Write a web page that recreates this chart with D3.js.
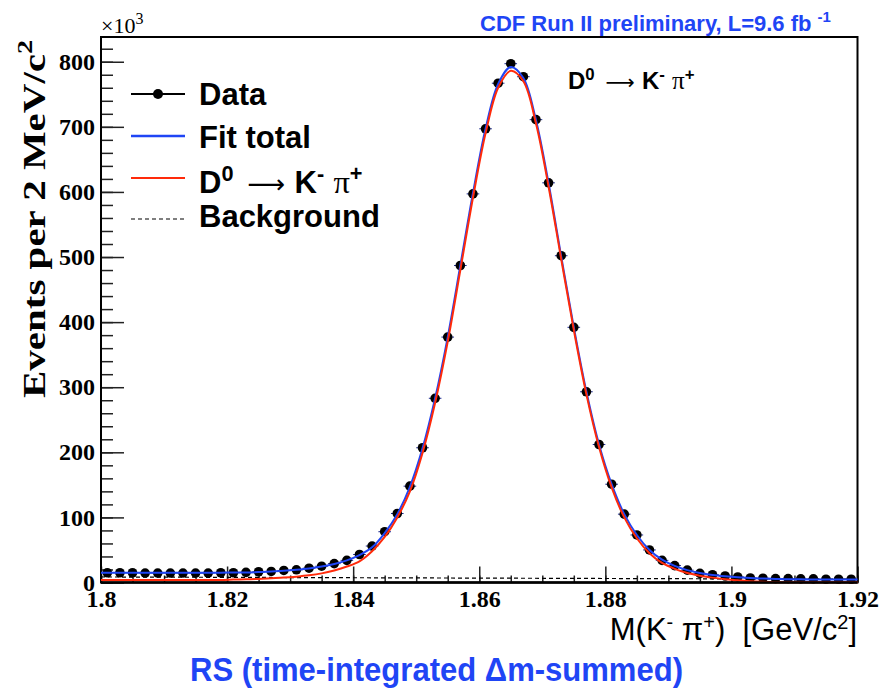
<!DOCTYPE html>
<html>
<head>
<meta charset="utf-8">
<script src="https://cdn.jsdelivr.net/npm/d3@7/dist/d3.min.js"></script>
<style>
  body { margin: 0; background: #fff; }
  svg { display: block; }
  .serifB { font-family: "Liberation Serif", "Times New Roman", serif; font-weight: bold; }
  .sansB { font-family: "Liberation Sans", Arial, Helvetica, sans-serif; font-weight: bold; }
  .sans { font-family: "Liberation Sans", Arial, Helvetica, sans-serif; }
  .sym { font-family: "Liberation Serif", "Times New Roman", serif; font-weight: normal; }
  .arrow { font-family: "DejaVu Sans", sans-serif; font-weight: normal; }
  text { white-space: pre; }
</style>
</head>
<body>
<div id="chart"></div>
<script>
/* global d3 */

// bin centres (2 MeV bins), GeV/c^2
var binCentres = [1.801, 1.803, 1.805, 1.807, 1.809, 1.811, 1.813, 1.815, 1.817, 1.819,
  1.821, 1.823, 1.825, 1.827, 1.829, 1.831, 1.833, 1.835, 1.837, 1.839,
  1.841, 1.843, 1.845, 1.847, 1.849, 1.851, 1.853, 1.855, 1.857, 1.859,
  1.861, 1.863, 1.865, 1.867, 1.869, 1.871, 1.873, 1.875, 1.877, 1.879,
  1.881, 1.883, 1.885, 1.887, 1.889, 1.891, 1.893, 1.895, 1.897, 1.899,
  1.901, 1.903, 1.905, 1.907, 1.909, 1.911, 1.913, 1.915, 1.917, 1.919];

// events per bin, x10^3
var dataCounts = [15, 15, 15, 14.5, 14.5, 14.5, 14.5, 14.5, 14.5, 15,
  15, 15.5, 16.5, 17, 18.5, 19.5, 22, 25, 29, 34,
  43, 56, 78, 106, 148, 207, 283, 377, 487, 597,
  697, 767, 797, 777, 711, 614, 502, 392, 293, 212,
  151, 105, 73, 50, 34, 26, 19, 14, 12, 10,
  8.5, 7, 6.5, 6, 6, 5.5, 5.5, 5, 5, 5];

// curve sampling points (edges + bin centres)
var curveMass = [1.800].concat(binCentres).concat([1.920]);

var fitTotal = [15, 15, 15, 15, 15, 15, 15, 15, 15, 15, 15,
  15.5, 15.5, 16, 17, 18, 19.5, 21.5, 24.5, 28.5, 34,
  42, 54, 76, 105, 147, 206, 283, 377, 487, 598,
  697, 766, 792, 775, 710, 613, 501, 392, 293, 212,
  151, 105, 73, 50, 35, 25.5, 19, 14.5, 11.5, 9.5,
  8, 7, 6, 5.5, 5, 5, 4.5, 4.5, 4.5, 4.5, 4.5];

var signalKpi = [4, 4, 4, 4, 4, 4, 4, 4, 4, 4, 4,
  4.5, 5, 5.5, 6.5, 7.5, 9, 11, 14, 18.5, 24.5,
  32.5, 48, 70, 100, 140, 199, 276, 370, 480, 591,
  690, 760, 786, 770, 705, 608, 497, 388, 289, 208,
  146, 100, 68, 45, 30, 21, 14.5, 10.5, 7.5, 5,
  3.5, 2, 1, 0.5, 0.5, 0.5, 0.5, 0.5, 0.5, 0.5, 0.5];

var bkgMass = [1.800, 1.920];
var bkgLevel = [8.5, 5];

var xTicks = [1.80, 1.82, 1.84, 1.86, 1.88, 1.90, 1.92];
var xMinorTicks = d3.range(1.800, 1.9201, 0.005);
var yTicks = [0, 100, 200, 300, 400, 500, 600, 700, 800];
var yMinorTicks = d3.range(0, 839, 20);

var blue = "#1f45f5";
var red = "#ff2a0a";
var W = 883, H = 689;

var svg = d3.select("#chart").append("svg")
  .attr("width", W).attr("height", H);

var x = d3.scaleLinear().domain([1.8, 1.92]).range([101, 857.5]);
var y = d3.scaleLinear().domain([0, 838]).range([582.5, 37]);

// minor ticks
svg.append("g")
  .attr("transform", "translate(" + x.range()[0] + ",0)")
  .call(d3.axisLeft(y).tickValues(yMinorTicks).tickFormat("").tickSizeInner(-12).tickSizeOuter(0))
  .call(function(g) { g.select(".domain").remove(); });
svg.append("g")
  .attr("transform", "translate(0," + y.range()[0] + ")")
  .call(d3.axisBottom(x).tickValues(xMinorTicks).tickFormat("").tickSizeInner(-7).tickSizeOuter(0))
  .call(function(g) { g.select(".domain").remove(); });

// major ticks + labels
var yAxis = svg.append("g")
  .attr("transform", "translate(" + x.range()[0] + ",0)")
  .call(d3.axisLeft(y).tickValues(yTicks).tickSizeInner(-23).tickSizeOuter(0).tickPadding(6));
var xAxis = svg.append("g")
  .attr("transform", "translate(0," + y.range()[0] + ")")
  .call(d3.axisBottom(x).tickValues(xTicks).tickSizeInner(-16).tickSizeOuter(0).tickPadding(7)
    .tickFormat(function(d) { return String(+d.toFixed(2)); }));

[yAxis, xAxis].forEach(function(g) {
  g.select(".domain").remove();
  g.selectAll("text").attr("class", "serifB").style("font-size", "24px").attr("fill", "#000");
});
svg.selectAll(".tick line").attr("stroke", "#222").attr("stroke-width", 1.5);

// frame
svg.append("rect")
  .attr("x", x.range()[0]).attr("y", y.range()[1])
  .attr("width", x.range()[1] - x.range()[0])
  .attr("height", y.range()[0] - y.range()[1])
  .attr("fill", "none").attr("stroke", "#000").attr("stroke-width", 2);

// data: x error bars + markers
var pts = binCentres.map(function(m, i) { return { m: m, v: dataCounts[i] }; });
svg.append("g").selectAll("line")
  .data(pts).enter().append("line")
  .attr("x1", function(d) { return x(d.m - 0.001); })
  .attr("x2", function(d) { return x(d.m + 0.001); })
  .attr("y1", function(d) { return y(d.v); })
  .attr("y2", function(d) { return y(d.v); })
  .attr("stroke", "#1c2a90").attr("stroke-width", 1);
svg.append("g").selectAll("circle")
  .data(pts).enter().append("circle")
  .attr("cx", function(d) { return x(d.m); })
  .attr("cy", function(d) { return y(d.v); })
  .attr("r", 4.8)
  .attr("fill", "#000");

// background
svg.append("path")
  .datum(bkgMass.map(function(m, i) { return [m, bkgLevel[i]]; }))
  .attr("d", d3.line().x(function(d) { return x(d[0]); }).y(function(d) { return y(d[1]); }))
  .attr("fill", "none").attr("stroke", "#000").attr("stroke-width", 1.2)
  .attr("stroke-dasharray", "4,3");

var curve = d3.line()
  .x(function(d) { return x(d[0]); })
  .y(function(d) { return y(d[1]); })
  .curve(d3.curveCatmullRom.alpha(0.5));

svg.append("path")
  .datum(curveMass.map(function(m, i) { return [m, fitTotal[i]]; }))
  .attr("d", curve)
  .attr("fill", "none").attr("stroke", blue).attr("stroke-width", 2);

svg.append("path")
  .datum(curveMass.map(function(m, i) { return [m, signalKpi[i]]; }))
  .attr("d", curve)
  .attr("fill", "none").attr("stroke", red).attr("stroke-width", 2);

// redraw bottom axis line over the curves
svg.append("line")
  .attr("x1", x.range()[0]).attr("x2", x.range()[1])
  .attr("y1", y.range()[0]).attr("y2", y.range()[0])
  .attr("stroke", "#000").attr("stroke-width", 2.4);

// D0 -> K- pi+ label text helper
function decayLabel(t, size) {
  var up = size * 0.38;
  t.append("tspan").text("D");
  t.append("tspan").text("0").attr("dy", -up).style("font-size", (size * 0.7) + "px");
  t.append("tspan").attr("class", "arrow").text("\u27f6").attr("dy", up).attr("dx", size * 0.45)
    .style("font-size", (size * 0.85) + "px");
  t.append("tspan").text("K").attr("dx", size * 0.3);
  t.append("tspan").text("-").attr("dy", -up).style("font-size", (size * 0.7) + "px");
  t.append("tspan").attr("class", "sym").text("\u03c0").attr("dy", up).attr("dx", size * 0.3)
    .style("font-size", (size * 1.05) + "px");
  t.append("tspan").text("+").attr("dy", -up).style("font-size", (size * 0.7) + "px");
}

// legend
var legendRows = [94, 136, 178, 219];
var legendBase = [105, 148, 193, 227];
var legendLabels = ["Data", "Fit total", "", "Background"];
var lg = svg.append("g");
lg.append("line").attr("x1", 131).attr("x2", 185).attr("y1", legendRows[0]).attr("y2", legendRows[0])
  .attr("stroke", "#000").attr("stroke-width", 2);
lg.append("circle").attr("cx", 158).attr("cy", legendRows[0]).attr("r", 5).attr("fill", "#000");
lg.append("line").attr("x1", 131).attr("x2", 185).attr("y1", legendRows[1]).attr("y2", legendRows[1])
  .attr("stroke", blue).attr("stroke-width", 2.5);
lg.append("line").attr("x1", 131).attr("x2", 185).attr("y1", legendRows[2]).attr("y2", legendRows[2])
  .attr("stroke", red).attr("stroke-width", 2);
lg.append("line").attr("x1", 131).attr("x2", 185).attr("y1", legendRows[3]).attr("y2", legendRows[3])
  .attr("stroke", "#000").attr("stroke-width", 1.2).attr("stroke-dasharray", "4,3");
legendRows.forEach(function(ry, i) {
  var t = lg.append("text").attr("class", "sansB").attr("x", 199).attr("y", legendBase[i])
    .style("font-size", "31px").attr("fill", "#000");
  if (i == 2) decayLabel(t, 31);
  else t.text(legendLabels[i]);
});

// decay annotation
var ann = svg.append("text").attr("class", "sansB").attr("x", 568).attr("y", 89)
  .style("font-size", "24px").attr("fill", "#000");
decayLabel(ann, 24);

// x10^3
var mult = svg.append("text").attr("class", "serifB").attr("x", 101).attr("y", 33)
  .style("font-size", "22px").style("font-weight", "normal");
mult.append("tspan").text("\u00d710");
mult.append("tspan").text("3").attr("dy", -9).style("font-size", "16px");

// y title
var yt = svg.append("text").attr("class", "serifB")
  .attr("transform", "translate(45,219) rotate(-90)")
  .attr("text-anchor", "middle")
  .attr("textLength", 358).attr("lengthAdjust", "spacingAndGlyphs")
  .style("font-size", "32px");
yt.append("tspan").text("Events per 2 MeV/c");
yt.append("tspan").text("2").attr("dy", -13).style("font-size", "22px");

// x title
var xt = svg.append("text").attr("class", "sans")
  .attr("x", 857).attr("y", 640).attr("text-anchor", "end")
  .style("font-size", "31px");
xt.append("tspan").text("M(K");
xt.append("tspan").text("-").attr("dy", -11).style("font-size", "20px");
xt.append("tspan").text(" \u03c0").attr("dy", 11);
xt.append("tspan").text("+").attr("dy", -11).style("font-size", "20px");
xt.append("tspan").text(")  [GeV/c").attr("dy", 11);
xt.append("tspan").text("2").attr("dy", -11).style("font-size", "20px");
xt.append("tspan").text("]").attr("dy", 11);

// CDF label
var cdf = svg.append("text").attr("class", "sansB")
  .attr("x", 480).attr("y", 31).attr("fill", blue)
  .style("font-size", "22px");
cdf.append("tspan").text("CDF Run II preliminary, L=9.6 fb ");
cdf.append("tspan").text("-1").attr("dy", -9).style("font-size", "15px");

// bottom title
svg.append("text").attr("class", "sansB")
  .attr("x", 190).attr("y", 681).attr("fill", blue)
  .style("font-size", "34px")
  .attr("textLength", 493).attr("lengthAdjust", "spacingAndGlyphs")
  .text("RS (time-integrated \u0394m-summed)");
</script>
</body>
</html>
